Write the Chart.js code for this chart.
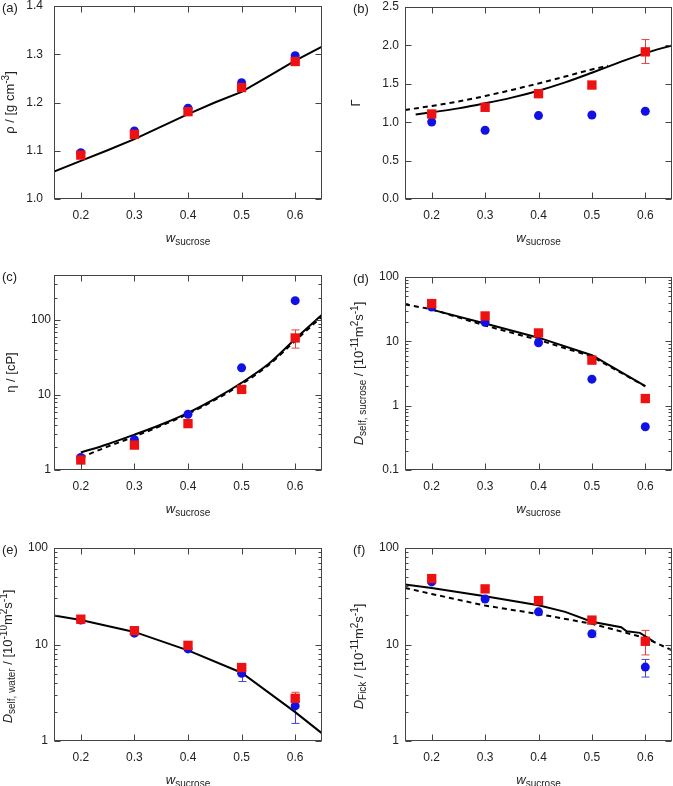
<!DOCTYPE html>
<html>
<head>
<meta charset="utf-8">
<script src="https://cdn.jsdelivr.net/npm/chart.js@4.4.1/dist/chart.umd.min.js"></script>
<style>
  body { margin: 0; background: #fff; }
  #fig { position: relative; width: 673px; height: 786px; overflow: hidden; }
  #fig canvas { position: absolute; }
</style>
</head>
<body>
<div id="fig">
  <canvas id="pa" width="336" height="271" style="left:0;top:-11px"></canvas>
  <canvas id="pb" width="337" height="265" style="left:336px;top:-5px"></canvas>
  <canvas id="pc" width="336" height="265" style="left:0;top:260px"></canvas>
  <canvas id="pd" width="337" height="265" style="left:336px;top:260px"></canvas>
  <canvas id="pe" width="336" height="261" style="left:0;top:525px"></canvas>
  <canvas id="pf" width="337" height="261" style="left:336px;top:525px"></canvas>
</div>
<script>
// shared x data
const wSucrose = [0.2, 0.3, 0.4, 0.5, 0.6];
const xTicks = [0.2, 0.3, 0.4, 0.5, 0.6];

// (a) density
const rhoBlue = [1.096, 1.141, 1.188, 1.241, 1.297];
const rhoRed = [1.091, 1.134, 1.181, 1.231, 1.285];
const rhoLineW = [0.15, 0.2, 0.25, 0.3, 0.35, 0.4, 0.45, 0.5, 0.55, 0.6, 0.65];
const rhoLine = [1.057, 1.079, 1.101, 1.124, 1.150, 1.176, 1.200, 1.222, 1.254, 1.287, 1.316];
const rhoTicks = [1.0, 1.1, 1.2, 1.3, 1.4];

// (b) thermodynamic factor
const gammaBlue = [1.003, 0.895, 1.086, 1.094, 1.142];
const gammaRed = [1.107, 1.194, 1.371, 1.484, 1.916];
const gammaRedLo = [null, null, null, null, 1.765];
const gammaRedHi = [null, null, null, null, 2.076];
const gammaSolidW = [0.17, 0.2, 0.25, 0.3, 0.35, 0.4, 0.45, 0.5, 0.55, 0.6, 0.65];
const gammaSolid = [1.099, 1.129, 1.18, 1.246, 1.32, 1.41, 1.518, 1.644, 1.775, 1.90, 2.0];
const gammaDashW = [0.15, 0.2, 0.25, 0.3, 0.35, 0.4, 0.45, 0.5, 0.53];
const gammaDash = [1.16, 1.211, 1.27, 1.341, 1.42, 1.505, 1.595, 1.687, 1.735];
const gammaTicks = [0, 0.5, 1.0, 1.5, 2.0, 2.5];

// (c) viscosity
const etaBlue = [1.47, 2.53, 5.55, 23.1, 182];
const etaRed = [1.36, 2.15, 4.16, 11.9, 57.8];
const etaRedLo = [null, null, null, 11.0, 42.3];
const etaRedHi = [null, null, null, 12.9, 74];
const etaLineW = [0.2, 0.25, 0.3, 0.35, 0.4, 0.45, 0.5, 0.55, 0.6, 0.65];
const etaSolid = [1.71, 2.21, 2.96, 4.05, 5.8, 8.9, 14.6, 25.9, 56, 118];
const etaDash = [1.47, 2.05, 2.8, 3.9, 5.6, 8.6, 14.0, 25, 53, 112];
const logTicks1 = [1, 10, 100];

// (d) sucrose self-diffusion
const dsuBlue = [34.2, 19.8, 9.5, 2.58, 0.47];
const dsuRed = [38.6, 24.8, 13.5, 5.1, 1.29];
const dsuSolidW = [0.2, 0.3, 0.4, 0.5, 0.6];
const dsuSolid = [31.1, 18.9, 11.4, 6.08, 2.01];
const dsuDashW = [0.15, 0.2, 0.3, 0.4, 0.5, 0.6];
const dsuDash = [37.5, 31.5, 17.6, 10.5, 5.8, 2.0];
const logTicks01 = [0.1, 1, 10, 100];

// (e) water self-diffusion
const dwBlue = [17.9, 13.1, 9.0, 5.04, 2.31];
const dwRed = [18.3, 13.9, 9.8, 5.77, 2.77];
const dwBlueLo = [null, null, null, 4.13, 1.52];
const dwBlueHi = [null, null, null, 5.7, 3.0];
const dwRedLo = [null, null, null, 5.4, 2.57];
const dwRedHi = [null, null, null, 6.1, 3.2];
const dwLineW = [0.15, 0.2, 0.3, 0.4, 0.5, 0.6, 0.65];
const dwLine = [20, 17.9, 13.5, 8.7, 5.1, 1.99, 1.2];

// (f) Fick diffusion
const dfBlue = [44.5, 29.6, 21.8, 12.9, 5.83];
const dfRed = [48.2, 37.7, 28.5, 17.9, 10.8];
const dfBlueLo = [null, null, null, 12.0, 4.6];
const dfBlueHi = [null, null, null, 13.8, 7.0];
const dfRedLo = [null, null, null, 16.5, 7.8];
const dfRedHi = [null, null, null, 19.0, 14.0];
const dfSolidW = [0.15, 0.2, 0.3, 0.4, 0.45, 0.5, 0.555, 0.565, 0.59, 0.615];
const dfSolid = [41.8, 38.6, 31.6, 25.5, 21.8, 17.2, 15.1, 13.7, 13.2, 10.8];
const dfDashW = [0.15, 0.2, 0.3, 0.4, 0.5, 0.6, 0.65];
const dfDash = [38.6, 33.4, 25.3, 20.7, 16.4, 11.7, 8.7];

// Style
const FONT = '"Liberation Sans", Arial, Helvetica, sans-serif';
const TEXT = '#222';
const AXIS = '#444';
const BLUE = '#1111e6';
const RED = '#ee1111';
const RED_BAR = '#e84040';
const BLUE_BAR = '#4444dd';

const pts = (xs, ys) => xs.map((x, i) => ({ x: x, y: ys[i] }));

// rich text: [text, kind] kind = n | i | sub | sup
function drawRich(ctx, parts, x, y, rotate, size) {
  const small = Math.round(size * 0.76);
  const fontFor = k => (k === 'i' ? 'italic ' : '') + (k === 'sub' || k === 'sup' ? small : size) + 'px ' + FONT;
  let total = 0;
  parts.forEach(p => { ctx.font = fontFor(p[1]); total += ctx.measureText(p[0]).width; });
  ctx.save();
  ctx.translate(x, y);
  if (rotate) ctx.rotate(-Math.PI / 2);
  ctx.fillStyle = TEXT;
  ctx.textAlign = 'left';
  ctx.textBaseline = 'alphabetic';
  let cx = -total / 2;
  parts.forEach(p => {
    ctx.font = fontFor(p[1]);
    const dy = p[1] === 'sub' ? 3 : p[1] === 'sup' ? -5 : 0;
    ctx.fillText(p[0], cx, dy);
    cx += ctx.measureText(p[0]).width;
  });
  ctx.restore();
}

const figurePlugin = {
  id: 'figure',
  beforeDatasetsDraw(chart, args, o) {
    const { ctx } = chart;
    const xs = chart.scales.x, ys = chart.scales.y;
    (o.errors || []).forEach(e => {
      ctx.save();
      ctx.strokeStyle = e.color;
      ctx.lineWidth = 1;
      ctx.beginPath();
      e.lo.forEach((lo, i) => {
        if (lo == null) return;
        const px = Math.round(xs.getPixelForValue(wSucrose[i])) + 0.5;
        const p1 = ys.getPixelForValue(lo), p2 = ys.getPixelForValue(e.hi[i]);
        ctx.moveTo(px, p1); ctx.lineTo(px, p2);
        ctx.moveTo(px - 4, p1); ctx.lineTo(px + 4, p1);
        ctx.moveTo(px - 4, p2); ctx.lineTo(px + 4, p2);
      });
      ctx.stroke();
      ctx.restore();
    });
  },
  afterDraw(chart, args, o) {
    const { ctx, chartArea: a } = chart;
    const xs = chart.scales.x, ys = chart.scales.y;
    const L = Math.round(a.left) + 0.5, R = Math.round(a.right) - 0.5;
    const T = Math.round(a.top) + 0.5, B = Math.round(a.bottom) - 0.5;
    ctx.save();
    ctx.strokeStyle = AXIS;
    ctx.lineWidth = 1;
    ctx.beginPath();
    xs.ticks.forEach(t => {
      const p = Math.round(xs.getPixelForValue(t.value)) + 0.5;
      ctx.moveTo(p, B); ctx.lineTo(p, B - 6);
      ctx.moveTo(p, T); ctx.lineTo(p, T + 6);
    });
    ys.ticks.forEach(t => {
      const p = Math.round(ys.getPixelForValue(t.value)) + 0.5;
      ctx.moveTo(L, p); ctx.lineTo(L + 6, p);
      ctx.moveTo(R, p); ctx.lineTo(R - 6, p);
    });
    if (ys.type === 'logarithmic') {
      const e0 = Math.floor(Math.log10(ys.min)), e1 = Math.ceil(Math.log10(ys.max));
      for (let e = e0; e <= e1; e++) {
        for (let m = 2; m <= 9; m++) {
          const v = m * Math.pow(10, e);
          if (v <= ys.min || v >= ys.max) continue;
          const p = Math.round(ys.getPixelForValue(v)) + 0.5;
          ctx.moveTo(L, p); ctx.lineTo(L + 3, p);
          ctx.moveTo(R, p); ctx.lineTo(R - 3, p);
        }
      }
    }
    ctx.stroke();
    ctx.strokeRect(L, T, R - L, B - T);
    ctx.restore();

    // panel label
    ctx.save();
    ctx.fillStyle = TEXT;
    ctx.font = '13px ' + FONT;
    ctx.textBaseline = 'middle';
    ctx.textAlign = 'left';
    ctx.fillText(o.label, o.labelX, a.top + 2);
    ctx.restore();

    // axis titles
    drawRich(ctx, [['w', 'i'], ['sucrose', 'sub']], (a.left + a.right) / 2, a.bottom + 43, false, 13);
    drawRich(ctx, o.yTitle, o.yTitleX, (a.top + a.bottom) / 2 + (o.yShift || 0), true, 13);
  }
};

function makeChart(id, cfg) {
  const tickFont = { family: FONT, size: 12, lineHeight: 1 };
  const yScale = Object.assign({
    grid: { display: false, drawTicks: false },
    border: { display: false },
    afterBuildTicks: s => { s.ticks = cfg.yTicks.map(v => ({ value: v })); },
    afterFit: s => { s.width = cfg.yW; },
    ticks: { padding: cfg.yPad, color: TEXT, font: tickFont, autoSkip: false, callback: cfg.yFmt }
  }, cfg.y);
  return new Chart(document.getElementById(id), {
    type: 'scatter',
    data: { datasets: cfg.datasets },
    plugins: [figurePlugin],
    options: {
      responsive: false,
      animation: false,
      devicePixelRatio: 1,
      events: [],
      layout: { autoPadding: false, padding: { left: 0, right: cfg.padR, top: cfg.padT, bottom: 0 } },
      scales: {
        x: {
          type: 'linear', min: 0.15, max: 0.65,
          grid: { display: false, drawTicks: false },
          border: { display: false },
          afterBuildTicks: s => { s.ticks = xTicks.map(v => ({ value: v })); },
          afterFit: s => { s.height = cfg.xH; },
          ticks: { padding: 11, color: TEXT, font: tickFont, maxRotation: 0, autoSkip: false, callback: v => v.toFixed(1) }
        },
        y: yScale
      },
      plugins: {
        legend: { display: false },
        tooltip: { enabled: false },
        figure: cfg.fig
      }
    }
  });
}

function blueSet(ys) {
  return { data: pts(wSucrose, ys), pointStyle: 'circle', pointRadius: 4.5, backgroundColor: BLUE, borderWidth: 0 };
}
function redSet(ys) {
  return { data: pts(wSucrose, ys), pointStyle: 'rect', pointRadius: 6.6, backgroundColor: RED, borderWidth: 0 };
}
function lineSet(xs, ys, dashed, smooth) {
  return { data: pts(xs, ys), showLine: true, pointRadius: 0, borderColor: '#000', borderWidth: 2,
    borderDash: dashed ? [5, 4] : [], cubicInterpolationMode: smooth ? 'monotone' : 'default', tension: 0 };
}

const fmt1 = v => v.toFixed(1);
const fmtLog = v => String(v);
const dUnit = exp => [[' / [10', 'n'], [exp, 'sup'], ['m', 'n'], ['2', 'sup'], ['s', 'n'], ['-1', 'sup'], [']', 'n']];

makeChart('pa', {
  yW: 54, padR: 14, padT: 0, xH: 61, yPad: 11,
  y: { type: 'linear', min: 1.0, max: 1.4 }, yTicks: rhoTicks, yFmt: fmt1,
  datasets: [redSet(rhoRed), blueSet(rhoBlue), lineSet(rhoLineW, rhoLine, false, false)],
  fig: { label: '(a)', labelX: 2, yTitleX: 14, yTitle: [['ρ / [g cm', 'n'], ['-3', 'sup'], [']', 'n']] }
});

makeChart('pb', {
  yW: 69, padR: 1, padT: 0, xH: 61, yPad: 6,
  y: { type: 'linear', min: 0, max: 2.5 }, yTicks: gammaTicks, yFmt: fmt1,
  datasets: [redSet(gammaRed), blueSet(gammaBlue), lineSet(gammaSolidW, gammaSolid, false, true), lineSet(gammaDashW, gammaDash, true, true)],
  fig: { label: '(b)', labelX: 17, yTitleX: 24, yTitle: [['Γ', 'n']],
    errors: [{ lo: gammaRedLo, hi: gammaRedHi, color: RED_BAR }] }
});

makeChart('pc', {
  yW: 54, padR: 14, padT: 15, xH: 55, yPad: 3,
  y: { type: 'logarithmic', min: 1, max: 400 }, yTicks: logTicks1, yFmt: fmtLog,
  datasets: [redSet(etaRed), blueSet(etaBlue), lineSet(etaLineW, etaSolid, false, true), lineSet(etaLineW, etaDash, true, true)],
  fig: { label: '(c)', labelX: 2, yTitleX: 15, yTitle: [['η / [cP]', 'n']],
    errors: [{ lo: etaRedLo, hi: etaRedHi, color: RED_BAR }] }
});

makeChart('pd', {
  yW: 69, padR: 1, padT: 17, xH: 55, yPad: 6,
  y: { type: 'logarithmic', min: 0.1, max: 100 }, yTicks: logTicks01, yFmt: fmtLog,
  datasets: [redSet(dsuRed), blueSet(dsuBlue), lineSet(dsuSolidW, dsuSolid, false, false), lineSet(dsuDashW, dsuDash, true, false)],
  fig: { label: '(d)', labelX: 17, yTitleX: 27, yTitle: [['D', 'i'], ['self, sucrose', 'sub']].concat(dUnit('-11')) }
});

makeChart('pe', {
  yW: 54, padR: 14, padT: 23, xH: 45, yPad: 6,
  y: { type: 'logarithmic', min: 1, max: 100 }, yTicks: logTicks1, yFmt: fmtLog,
  datasets: [redSet(dwRed), blueSet(dwBlue), lineSet(dwLineW, dwLine, false, false)],
  fig: { label: '(e)', labelX: 2, yTitleX: 12, yShift: 12, yTitle: [['D', 'i'], ['self, water', 'sub']].concat(dUnit('-10')),
    errors: [{ lo: dwBlueLo, hi: dwBlueHi, color: BLUE_BAR }, { lo: dwRedLo, hi: dwRedHi, color: RED_BAR }] }
});

makeChart('pf', {
  yW: 69, padR: 1, padT: 23, xH: 45, yPad: 6,
  y: { type: 'logarithmic', min: 1, max: 100 }, yTicks: logTicks1, yFmt: fmtLog,
  datasets: [redSet(dfRed), blueSet(dfBlue), lineSet(dfSolidW, dfSolid, false, false), lineSet(dfDashW, dfDash, true, false)],
  fig: { label: '(f)', labelX: 17, yTitleX: 27, yShift: 12, yTitle: [['D', 'i'], ['Fick', 'sub']].concat(dUnit('-11')),
    errors: [{ lo: dfBlueLo, hi: dfBlueHi, color: BLUE_BAR }, { lo: dfRedLo, hi: dfRedHi, color: RED_BAR }] }
});
</script>
</body>
</html>
